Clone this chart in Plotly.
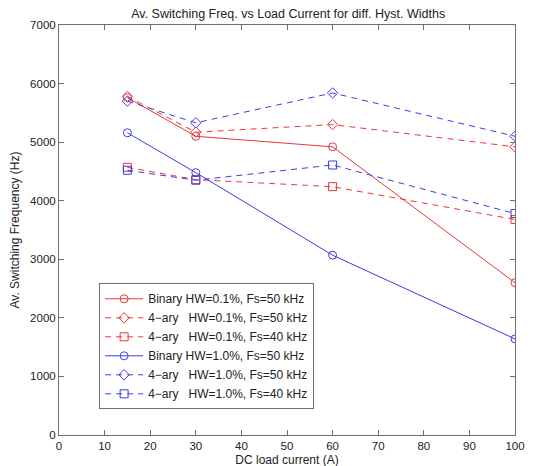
import plotly.graph_objects as go

current = [15, 30, 60, 100]

bin_hw01_fs50 = [5760, 5100, 4920, 2600]
q4_hw01_fs50 = [5780, 5170, 5300, 4920]
q4_hw01_fs40 = [4570, 4360, 4240, 3680]
bin_hw10_fs50 = [5160, 4480, 3070, 1640]
q4_hw10_fs50 = [5700, 5330, 5840, 5100]
q4_hw10_fs40 = [4520, 4350, 4610, 3780]

names = [
    "Binary HW=0.1%, Fs=50 kHz",
    "4\u2212ary   HW=0.1%, Fs=50 kHz",
    "4\u2212ary   HW=0.1%, Fs=40 kHz",
    "Binary HW=1.0%, Fs=50 kHz",
    "4\u2212ary   HW=1.0%, Fs=50 kHz",
    "4\u2212ary   HW=1.0%, Fs=40 kHz",
]
series = [bin_hw01_fs50, q4_hw01_fs50, q4_hw01_fs40,
          bin_hw10_fs50, q4_hw10_fs50, q4_hw10_fs40]

red = "rgb(234,56,56)"
blue = "rgb(60,60,228)"
styles = [
    (red, "solid", "circle-open"),
    (red, "6px,5px", "diamond-open"),
    (red, "6px,5px", "square-open"),
    (blue, "solid", "circle-open"),
    (blue, "6px,5px", "diamond-open"),
    (blue, "6px,5px", "square-open"),
]

fig = go.Figure()
for name, ys, (color, dash, symbol) in zip(names, series, styles):
    fig.add_trace(go.Scatter(
        x=current, y=ys, name=name, mode="lines+markers",
        line=dict(color=color, width=1, dash=dash),
        marker=dict(symbol=symbol, size=8, color=color, line=dict(width=1, color=color)),
    ))

axis_common = dict(
    showline=True, linecolor="#707070", linewidth=1, mirror="ticks",
    ticks="inside", ticklen=5, tickcolor="#707070", showgrid=False,
    zeroline=False, tickfont=dict(size=11.5, color="#222"), automargin=False,
)

# the page body has an 8px margin, so margins below are shifted by 8px
fig.update_layout(
    width=542, height=466,
    paper_bgcolor="white", plot_bgcolor="white",
    font=dict(family="Liberation Sans, Arial", size=12, color="#222"),
    margin=dict(l=51, r=35, t=17, b=39),
    title=dict(text="Av. Switching Freq. vs Load Current for diff. Hyst. Widths",
               x=0.517, xanchor="center", y=0.987, yanchor="middle",
               font=dict(size=12.5)),
    xaxis=dict(range=[0, 100], dtick=10,
               title=dict(text="DC load current (A)", standoff=4, font=dict(size=12)),
               **axis_common),
    yaxis=dict(range=[0, 7000], dtick=1000,
               title=dict(text="Av. Switching Frequency (Hz)", standoff=8, font=dict(size=12)),
               **axis_common),
    legend=dict(x=0.088, y=0.37, xanchor="left", yanchor="top",
                bgcolor="white", bordercolor="#707070", borderwidth=1,
                font=dict(size=12), tracegroupgap=0, itemwidth=38),
    showlegend=True,
)

fig.write_html("out.html")
